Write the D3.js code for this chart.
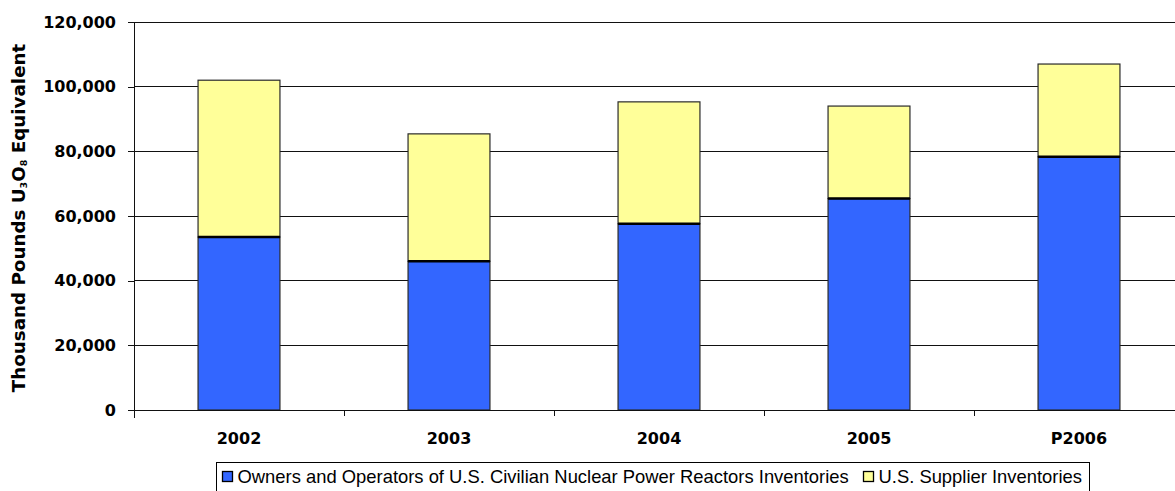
<!DOCTYPE html>
<html>
<head>
<meta charset="utf-8">
<script src="https://cdn.jsdelivr.net/npm/d3@7/dist/d3.min.js"></script>
<style>
  html, body { margin: 0; padding: 0; background: #fff; }
  svg { display: block; }
</style>
</head>
<body>
<svg id="chart" width="1175" height="491"></svg>
<script>
// End-of-year uranium inventories, thousand pounds U3O8 equivalent
const years = ["2002", "2003", "2004", "2005", "P2006"];
const ownersInventories = [53500, 46000, 57600, 65400, 78300];
const supplierInventories = [48500, 39400, 37700, 28600, 28700];
const yTicks = [0, 20000, 40000, 60000, 80000, 100000, 120000];
const seriesNames = [
  "Owners and Operators of U.S. Civilian Nuclear Power Reactors Inventories",
  "U.S. Supplier Inventories"
];
const seriesColors = ["#3366FF", "#FFFF99"];

const boldFont = "DejaVu Sans, Verdana, sans-serif";
const plainFont = "Liberation Sans, Arial, sans-serif";

const svg = d3.select("#chart");
const plotLeft = 134, plotRight = 1184, plotTop = 22, plotBottom = 410;

const x = d3.scaleBand()
  .domain(years)
  .range([plotLeft, plotRight])
  .paddingInner(0.61)
  .paddingOuter(0.305);
const step = x.step();

const y = d3.scaleLinear().domain([0, 120000]).range([plotBottom, plotTop]);

const rows = years.map((yr, i) => ({
  year: yr,
  owners: ownersInventories[i],
  suppliers: supplierInventories[i]
}));
const stack = d3.stack().keys(["owners", "suppliers"])(rows);

// horizontal gridlines
svg.append("g")
  .selectAll("line")
  .data(yTicks.filter(t => t > 0))
  .join("line")
  .attr("x1", plotLeft).attr("x2", 1175)
  .attr("y1", d => y(d)).attr("y2", d => y(d))
  .attr("stroke", "#111").attr("stroke-width", 1)
  .attr("shape-rendering", "crispEdges");

// y axis
const yAxis = svg.append("g")
  .attr("transform", `translate(${plotLeft},0)`)
  .call(d3.axisLeft(y).tickValues(yTicks).tickFormat(d3.format(",")).tickSize(6).tickPadding(12));
yAxis.select(".domain").remove();
yAxis.selectAll(".tick line").attr("stroke", "#111").attr("shape-rendering", "crispEdges");
yAxis.selectAll(".tick text")
  .attr("font-family", boldFont)
  .attr("font-size", 16).attr("font-weight", "bold").attr("fill", "#000");
svg.append("line")
  .attr("x1", plotLeft).attr("x2", plotLeft).attr("y1", plotTop).attr("y2", plotBottom + 8)
  .attr("stroke", "#111").attr("shape-rendering", "crispEdges");

// stacked bars
svg.append("g")
  .selectAll("g")
  .data(stack)
  .join("g")
  .attr("fill", (d, i) => seriesColors[i])
  .selectAll("rect")
  .data(d => d)
  .join("rect")
  .attr("x", d => x(d.data.year))
  .attr("width", x.bandwidth())
  .attr("y", d => y(d[1]))
  .attr("height", d => y(d[0]) - y(d[1]))
  .attr("stroke", "#2a2a2a")
  .attr("stroke-width", 1.2);

// dark divider between the two segments
svg.append("g")
  .selectAll("line")
  .data(rows)
  .join("line")
  .attr("x1", d => x(d.year)).attr("x2", d => x(d.year) + x.bandwidth())
  .attr("y1", d => y(d.owners)).attr("y2", d => y(d.owners))
  .attr("stroke", "#000").attr("stroke-width", 2.5);

// x axis baseline and category separators
svg.append("line")
  .attr("x1", plotLeft - 6).attr("x2", 1175).attr("y1", plotBottom).attr("y2", plotBottom)
  .attr("stroke", "#111").attr("shape-rendering", "crispEdges");
svg.append("g")
  .selectAll("line")
  .data(years.slice(1))
  .join("line")
  .attr("x1", d => x(d) - step * 0.305).attr("x2", d => x(d) - step * 0.305)
  .attr("y1", plotBottom).attr("y2", plotBottom + 6)
  .attr("stroke", "#111").attr("shape-rendering", "crispEdges");

// category labels
svg.append("g")
  .selectAll("text")
  .data(years)
  .join("text")
  .attr("x", d => x(d) + x.bandwidth() / 2)
  .attr("y", 444)
  .attr("text-anchor", "middle")
  .attr("font-family", boldFont)
  .attr("font-size", 16).attr("font-weight", "bold")
  .text(d => d);

// y axis title with subscripts
const title = svg.append("text")
  .attr("transform", "translate(25,218) rotate(-90)")
  .attr("text-anchor", "middle")
  .attr("font-family", boldFont)
  .attr("font-size", 18.3).attr("font-weight", "bold");
title.append("tspan").text("Thousand Pounds U");
title.append("tspan").attr("font-size", 9.5).attr("dy", 2).text("3");
title.append("tspan").attr("dy", -2).text("O");
title.append("tspan").attr("font-size", 9.5).attr("dy", 2).text("8");
title.append("tspan").attr("dy", -2).text(" Equivalent");

// legend
const legend = svg.append("g");
legend.append("rect")
  .attr("x", 216.5).attr("y", 462.5).attr("width", 873).attr("height", 32)
  .attr("fill", "#fff").attr("stroke", "#000").attr("stroke-width", 1);
const legendX = [222, 863];
seriesNames.forEach((name, i) => {
  legend.append("rect")
    .attr("x", legendX[i] + 0.5).attr("y", 471.5).attr("width", 10).attr("height", 10)
    .attr("fill", seriesColors[i]).attr("stroke", "#000").attr("stroke-width", 1.3);
  legend.append("text")
    .attr("x", legendX[i] + 15.5).attr("y", 483)
    .attr("font-family", plainFont)
    .attr("font-size", 18.4)
    .text(name);
});
</script>
</body>
</html>
